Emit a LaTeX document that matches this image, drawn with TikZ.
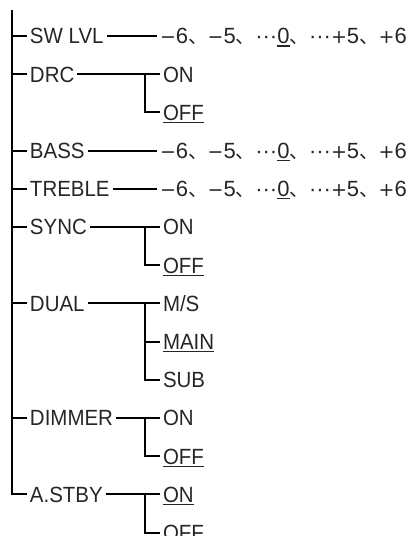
\documentclass[tikz,border=0pt]{standalone}
\usepackage{fontspec}
\setmainfont{Liberation Sans}[FakeStretch=0.93]
\newfontfamily\numfont{Liberation Sans}
\newfontfamily\symfont{DejaVu Sans}
\newfontfamily\cjkfont{Noto Sans CJK JP}
% full-width Japanese punctuation
\newcommand\jp[1]{{\cjkfont\fontsize{19.5pt}{20pt}\selectfont #1}}
% wide plus and minus signs
\newcommand\sgn[1]{{\symfont\fontsize{19pt}{20pt}\selectfont #1}}
% factory default value: underlined
\newcommand\defopt[1]{\setbox0\hbox{#1}\rlap{\rule[-2.6pt]{\wd0}{1.2pt}}\box0}
% -6 ... +6 level range
\newcommand\steprange{{\numfont\fontsize{22pt}{22pt}\selectfont
  \sgn{−}6\jp{、}\sgn{−}5\jp{、}···\defopt{0}\jp{、}···\sgn{+}5\jp{、}\sgn{+}6}}

\begin{document}
\begin{tikzpicture}[x=1pt,y=-1pt,line width=2pt,
  lbl/.style={anchor=west,inner xsep=2pt,inner ysep=0pt,
    text height=15.8pt,text depth=0pt,
    font=\fontsize{22pt}{24pt}\selectfont,text=black!85}]
\useasboundingbox (0,0) rectangle (411,536);
\coordinate (top) at (12,10);
\coordinate (bx) at (145,0);

% menu items
\node[lbl] (sw)     at (27,36)    {SW LVL};
\node[lbl] (drc)    at (27,74.2)  {DRC};
\node[lbl] (bass)   at (27,150.6) {BASS};
\node[lbl] (treble) at (27,188.8) {TREBLE};
\node[lbl] (sync)   at (27,227)   {SYNC};
\node[lbl] (dual)   at (27,303.4) {DUAL};
\node[lbl] (dim)    at (27,418)   {DIMMER};
\node[lbl] (astby)  at (27,494.4) {A.STBY};

% settings
\node[lbl] (swv)      at (157,36)    {\steprange};
\node[lbl] (drcon)    at (160,74.2)  {ON};
\node[lbl] (drcoff)   at (160,112.4) {\defopt{OFF}};
\node[lbl] (bassv)    at (157,150.6) {\steprange};
\node[lbl] (treblev)  at (157,188.8) {\steprange};
\node[lbl] (syncon)   at (160,227)   {ON};
\node[lbl] (syncoff)  at (160,265.2) {\defopt{OFF}};
\node[lbl] (dualms)   at (160,303.4) {M/S};
\node[lbl] (dualmain) at (160,341.6) {\defopt{MAIN}};
\node[lbl] (dualsub)  at (160,379.8) {SUB};
\node[lbl] (dimon)    at (160,418)   {ON};
\node[lbl] (dimoff)   at (160,456.2) {\defopt{OFF}};
\node[lbl] (astbyon)  at (160,494.4) {\defopt{ON}};
\node[lbl] (astbyoff) at (160,532.6) {OFF};

% trunk
\draw (top) |- (astby.west);
\foreach \n in {sw,drc,bass,treble,sync,dual,dim}
  \draw (top |- \n.west) -- (\n.west);

% item to setting links
\draw (sw.east) -- (swv.west);
\draw (bass.east) -- (bassv.west);
\draw (treble.east) -- (treblev.west);
\draw (drc.east) -- (drcon.west);
\draw (bx |- drcon.west) |- (drcoff.west);
\draw (sync.east) -- (syncon.west);
\draw (bx |- syncon.west) |- (syncoff.west);
\draw (dual.east) -- (dualms.west);
\draw (bx |- dualms.west) |- (dualsub.west);
\draw (bx |- dualmain.west) -- (dualmain.west);
\draw (dim.east) -- (dimon.west);
\draw (bx |- dimon.west) |- (dimoff.west);
\draw (astby.east) -- (astbyon.west);
\draw (bx |- astbyon.west) |- (astbyoff.west);
\end{tikzpicture}
\end{document}
